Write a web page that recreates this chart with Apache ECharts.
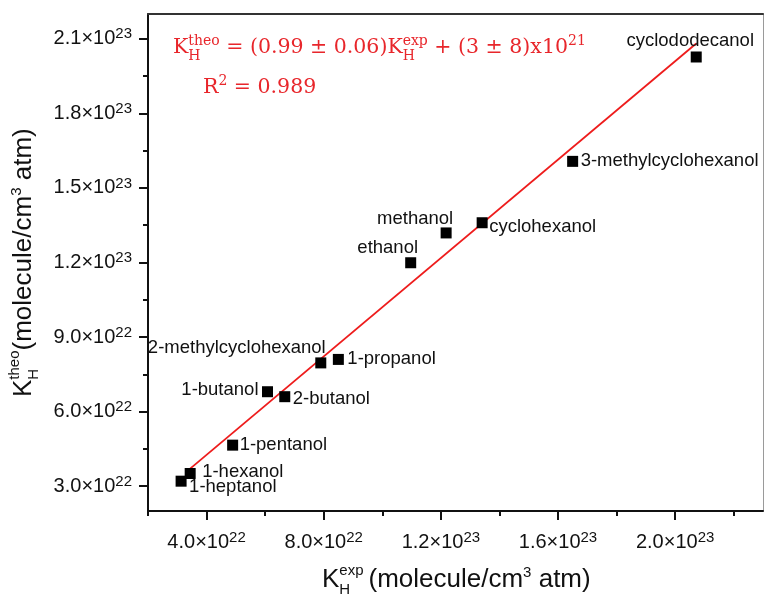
<!DOCTYPE html>
<html>
<head>
<meta charset="utf-8">
<script src="https://cdn.jsdelivr.net/npm/echarts@6/dist/echarts.min.js"></script>
<style>
  html, body { margin: 0; padding: 0; background: #fff; }
  #chart { width: 764px; height: 594px; }
</style>
</head>
<body>
<div id="chart"></div>
<script>
// data
var names = ['1-heptanol', '1-hexanol', '1-pentanol', '1-butanol', '2-butanol',
  '2-methylcyclohexanol', '1-propanol', 'ethanol', 'methanol', 'cyclohexanol',
  '3-methylcyclohexanol', 'cyclododecanol'];
var kExp = [3.13e22, 3.44e22, 4.89e22, 6.08e22, 6.67e22, 7.90e22, 8.50e22,
  1.097e23, 1.218e23, 1.341e23, 1.650e23, 2.072e23];
var kTheo = [3.20e22, 3.51e22, 4.65e22, 6.80e22, 6.60e22, 7.96e22, 8.10e22,
  1.199e23, 1.319e23, 1.360e23, 1.607e23, 2.027e23];
var xTicks = [4e22, 8e22, 1.2e23, 1.6e23, 2.0e23];
var xMinor = [2e22, 6e22, 1.0e23, 1.4e23, 1.8e23, 2.2e23];
var yTicks = [3e22, 6e22, 9e22, 1.2e23, 1.5e23, 1.8e23, 2.1e23];
var yMinor = [4.5e22, 7.5e22, 1.05e23, 1.35e23, 1.65e23, 1.95e23];
var fitSlope = 0.99;
var fitIntercept = 3e21;
var fitRange = [3.44e22, 2.072e23];

// label placement (align, dx, dy from marker centre)
var labelPlace = {
  '1-heptanol': ['left', 8, 6],
  '1-hexanol': ['left', 12, -2],
  '1-pentanol': ['left', 7, 0],
  '1-butanol': ['right', -9, -2],
  '2-butanol': ['left', 8, 2],
  '2-methylcyclohexanol': ['center', -84, -15],
  '1-propanol': ['left', 9, -1],
  'ethanol': ['center', -23, -15],
  'methanol': ['center', -31, -14],
  'cyclohexanol': ['left', 7, 4],
  '3-methylcyclohexanol': ['left', 8, 0],
  'cyclododecanol': ['center', -6, -16]
};

var SANS = 'Liberation Sans';
var SERIF = 'DejaVu Serif';
var RED = '#e8262b';
var INK = '#111';

var ctx = document.createElement('canvas').getContext('2d');
function textW(t, size, fam) {
  ctx.font = size + 'px "' + fam + '"';
  return ctx.measureText(t).width;
}
function piece(t, x, base, size, fam, color) {
  return {
    type: 'text', x: x, y: base - 0.35 * size,
    style: { text: t, fontSize: size, fontFamily: fam, fill: color, align: 'left', verticalAlign: 'middle' }
  };
}
// lays out text with super/subscripts along a baseline at y=0
function run(parts, fam, color) {
  var x = 0, out = [];
  parts.forEach(function (p) {
    if (p.t !== undefined) {
      out.push(piece(p.t, x, 0, p.s, fam, color));
      x += textW(p.t, p.s, fam);
    } else {
      var w = 0;
      if (p.sup) { out.push(piece(p.sup, x, -p.up, p.s, fam, color)); w = Math.max(w, textW(p.sup, p.s, fam)); }
      if (p.sub) { out.push(piece(p.sub, x, p.down, p.s, fam, color)); w = Math.max(w, textW(p.sub, p.s, fam)); }
      x += w + (p.gap || 0);
    }
  });
  return out;
}

function sciLabel(v) {
  var e = Math.floor(Math.log10(v) + 1e-9);
  var m = (v / Math.pow(10, e)).toFixed(1);
  return '{m|' + m + '×10}{e|' + e + '}';
}
var tickRich = {
  m: { fontSize: 20, fontFamily: SANS, color: INK, lineHeight: 24 },
  e: { fontSize: 15, fontFamily: SANS, color: INK, lineHeight: 16, verticalAlign: 'top' }
};

var points = names.map(function (n, i) {
  var lp = labelPlace[n];
  return {
    name: n,
    value: [kExp[i], kTheo[i]],
    label: { align: lp[0], offset: [lp[1], lp[2]] }
  };
});
var fitLine = fitRange.map(function (x) { return [x, fitSlope * x + fitIntercept]; });

var eq = run([
  { t: 'K', s: 20.5 },
  { sup: 'theo', sub: 'H', s: 14, up: 9, down: 6 },
  { t: ' = (0.99 ± 0.06)K', s: 20.5 },
  { sup: 'exp', sub: 'H', s: 14, up: 9, down: 6 },
  { t: ' + (3 ± 8)x10', s: 20.5 },
  { sup: '21', s: 14, up: 9 }
], SERIF, RED);
var r2 = run([
  { t: 'R', s: 20.5 },
  { sup: '2', s: 14, up: 9 },
  { t: ' = 0.989', s: 20.5 }
], SERIF, RED);
var xTitle = run([
  { t: 'K', s: 26 },
  { sup: 'exp', sub: 'H', s: 15, up: 13, down: 6, gap: 5 },
  { t: '(molecule/cm', s: 26 },
  { sup: '3', s: 15, up: 11 },
  { t: ' atm)', s: 26 }
], SANS, INK);
var yTitle = run([
  { t: 'K', s: 26 },
  { sup: 'theo', sub: 'H', s: 15, up: 13, down: 6 },
  { t: '(molecule/cm', s: 26 },
  { sup: '3', s: 15, up: 11 },
  { t: ' atm)', s: 26 }
], SANS, INK);

var chart = echarts.init(document.getElementById('chart'));
var option = {
  backgroundColor: '#fff',
  animation: false,
  grid: { left: 148, right: 1, top: 14, bottom: 83, containLabel: false },
  xAxis: [{
    type: 'value', position: 'bottom', min: 2e22, max: 2.3e23,
    axisLine: { onZero: false, lineStyle: { color: INK, width: 2 } },
    axisTick: { show: true, inside: false, length: 9, customValues: xTicks, lineStyle: { color: INK, width: 2 } },
    axisLabel: { customValues: xTicks, margin: 19, formatter: sciLabel, rich: tickRich },
    splitLine: { show: false }
  }, {
    type: 'value', position: 'bottom', min: 2e22, max: 2.3e23,
    axisLine: { show: false },
    axisTick: { show: true, length: 5, customValues: xMinor, lineStyle: { color: INK, width: 2 } },
    axisLabel: { show: false },
    splitLine: { show: false }
  }, {
    type: 'value', position: 'top', min: 2e22, max: 2.3e23,
    axisLine: { onZero: false, lineStyle: { color: '#333', width: 2 } },
    axisTick: { show: false }, axisLabel: { show: false }, splitLine: { show: false }
  }],
  yAxis: [{
    type: 'value', position: 'left', min: 2e22, max: 2.2e23,
    axisLine: { show: true, onZero: false, lineStyle: { color: INK, width: 2 } },
    axisTick: { show: true, length: 9, customValues: yTicks, lineStyle: { color: INK, width: 2 } },
    axisLabel: { customValues: yTicks, margin: 16, formatter: sciLabel, rich: tickRich },
    splitLine: { show: false }
  }, {
    type: 'value', position: 'left', min: 2e22, max: 2.2e23,
    axisLine: { show: false },
    axisTick: { show: true, length: 5, customValues: yMinor, lineStyle: { color: INK, width: 2 } },
    axisLabel: { show: false },
    splitLine: { show: false }
  }, {
    type: 'value', position: 'right', min: 2e22, max: 2.2e23,
    axisLine: { show: true, onZero: false, lineStyle: { color: '#9a9a9a', width: 1 } },
    axisTick: { show: false }, axisLabel: { show: false }, splitLine: { show: false }
  }],
  series: [{
    type: 'line',
    data: fitLine,
    showSymbol: false,
    symbol: 'none',
    lineStyle: { color: '#ee1c1c', width: 1.8 },
    z: 2
  }, {
    type: 'scatter',
    data: points,
    symbol: 'rect',
    symbolSize: 11,
    itemStyle: { color: '#000', opacity: 1 },
    label: {
      show: true, position: 'inside', formatter: '{b}',
      fontSize: 18.5, fontFamily: SANS, color: INK
    },
    z: 3
  }],
  graphic: [
    { type: 'group', x: 173, y: 55, children: eq },
    { type: 'group', x: 203, y: 95, children: r2 },
    { type: 'group', x: 322, y: 589, children: xTitle },
    { type: 'group', x: 33, y: 397, rotation: Math.PI / 2, children: yTitle }
  ]
};
chart.setOption(option);
window.addEventListener('resize', function () { chart.resize(); });
</script>
</body>
</html>
